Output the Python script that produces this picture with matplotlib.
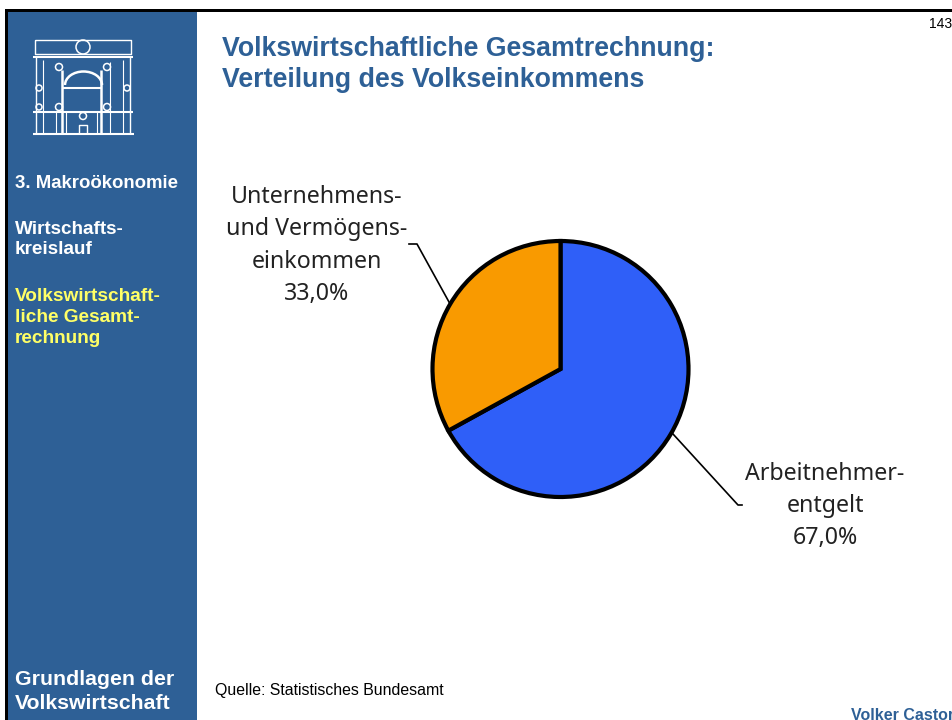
import matplotlib
matplotlib.use('Agg')
import matplotlib.pyplot as plt
from matplotlib.patches import Rectangle, Circle, Arc

# Data
labels = ['Arbeitnehmerentgelt', 'Unternehmens- und Vermögenseinkommen']
shares = [67.0, 33.0]
colors = ['#2F5FF8', '#F99A00']
menu_items = ['3. Makroökonomie', 'Wirtschafts-\nkreislauf']
menu_active = 'Volkswirtschaft-\nliche Gesamt-\nrechnung'

BLUE = '#2E6096'
plt.rcParams['font.family'] = ['Liberation Sans', 'DejaVu Sans']

fig = plt.figure(figsize=(9.52, 7.2), dpi=100)
bg = fig.add_axes([0, 0, 1, 1])
bg.set_xlim(0, 952)
bg.set_ylim(720, 0)
bg.axis('off')

# sidebar and frame
bg.add_patch(Rectangle((8, 11), 189, 709, color=BLUE, lw=0))
bg.add_patch(Rectangle((5, 9), 947, 2.5, color='black', lw=0))
bg.add_patch(Rectangle((5, 9), 3, 711, color='black', lw=0))

# logo
def ln(xs, ys, lw=1.0):
    bg.plot(xs, ys, color='white', lw=lw, solid_capstyle='butt')

ln([35, 131, 131, 35, 35], [40, 40, 54, 54, 40])
ln([33, 133], [57, 57], 1.5)
ln([33, 133], [112, 112], 1.5)
ln([33, 134], [134, 134], 1.5)
ln([36, 36], [57, 134])
ln([130, 130], [57, 134])
ln([43, 43], [60, 134], 0.8)
ln([123, 123], [60, 134], 0.8)
for x in [62, 101]:
    ln([x, x], [70, 133], 1.8)
ln([56, 56], [112, 133], 0.8)
ln([110, 110], [62, 133], 0.8)
ln([63, 101], [88, 88], 1.5)
ln([66, 66], [112, 133], 0.8)
ln([97, 97], [112, 133], 0.8)
ln([79, 79, 87, 87], [133, 125, 125, 133], 1.0)
bg.add_patch(Arc((83.5, 85), 37, 27, theta1=180, theta2=360, color='white', lw=1.8))
for cx, cy, r in [(83, 47, 7), (59, 67, 3.5), (107, 67, 3.5), (39, 88, 3), (127, 88, 3),
                  (39, 107, 3), (59, 107, 3.5), (107, 107, 3.5), (83, 116, 3.5)]:
    bg.add_patch(Circle((cx, cy), r, fc='none', ec='white', lw=1.1))

# sidebar text
bg.text(15, 183.5, menu_items[0], color='white', fontsize=13.4, fontweight='bold', va='center')
bg.text(15, 239.5, menu_items[1], color='white', fontsize=13.6, fontweight='bold', va='center', linespacing=1.28)
bg.text(15, 317.5, menu_active, color='#FFFF66', fontsize=13.7, fontweight='bold', va='center', linespacing=1.28)
bg.text(15, 691.5, 'Grundlagen der\nVolkswirtschaft', color='white', fontsize=15.3, fontweight='bold',
        va='center', linespacing=1.33)

# header and footer
bg.text(222, 64.5, 'Volkswirtschaftliche Gesamtrechnung:\nVerteilung des Volkseinkommens', color=BLUE,
        fontsize=19.3, fontweight='bold', va='center', linespacing=1.29)
bg.text(929, 24, '143', color='black', fontsize=10, va='center')
bg.text(215, 690, 'Quelle: Statistisches Bundesamt', color='black', fontsize=11.4, va='center')
bg.text(851, 715, 'Volker Castor', color=BLUE, fontsize=11.5, fontweight='bold', va='center')

# pie
cx, cy, r = 560.5, 369, 128
pie_ax = fig.add_axes([(cx - r) / 952, 1 - (cy + r) / 720, 2 * r / 952, 2 * r / 720])
pie_ax.pie(shares, colors=colors, startangle=90, counterclock=False, radius=1,
           wedgeprops={'edgecolor': 'black', 'linewidth': 3.0})
pie_ax.set_xlim(-1, 1)
pie_ax.set_ylim(-1, 1)
pie_ax.patch.set_visible(False)
for w in pie_ax.patches:
    w.set_clip_on(False)

# leader lines
bg.plot([409, 417, 449], [244, 244, 302], color='black', lw=1.2)
bg.plot([673, 738, 742], [434, 505, 505], color='black', lw=1.2)

# slice labels
bg.text(316.5, 245.5, 'Unternehmens-\nund Vermögens-\neinkommen\n33,0%', family=['Noto Sans', 'DejaVu Sans'],
        fontsize=16.7, color='#222222', ha='center', va='center', linespacing=1.47)
bg.text(825, 506, 'Arbeitnehmer-\nentgelt\n67,0%', family=['Noto Sans', 'DejaVu Sans'],
        fontsize=16.7, color='#222222', ha='center', va='center', linespacing=1.47)

fig.savefig('out.png', dpi=100)
